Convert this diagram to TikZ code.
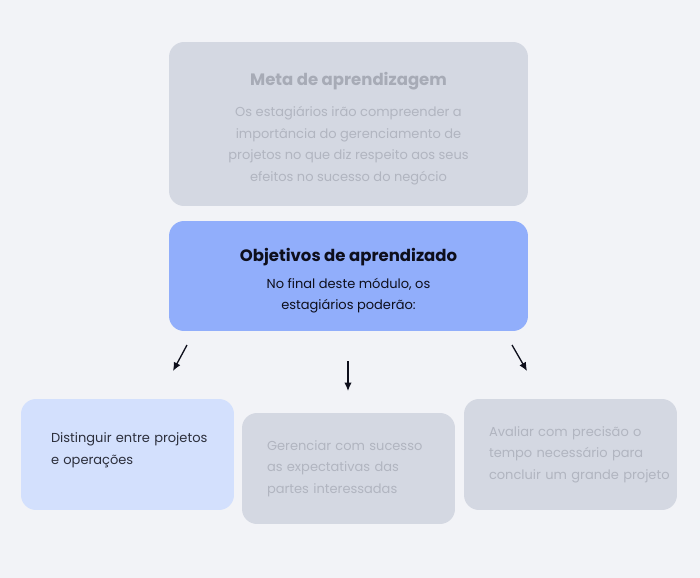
\documentclass[tikz,border=0pt]{standalone}
\usepackage{fontspec}
\setmainfont{Poppins}
\usepackage{xcolor}
\usetikzlibrary{arrows.meta,positioning,calc}
\definecolor{pagebg}{HTML}{F2F3F7}
\definecolor{cardgray}{HTML}{D4D8E2}
\definecolor{cardblue}{HTML}{91AEFB}
\definecolor{cardpale}{HTML}{D3E0FD}
\definecolor{fadetitle}{HTML}{A7ABB6}
\definecolor{fadetext}{HTML}{B1B5C0}
\definecolor{inktext}{HTML}{0E0F1C}
\definecolor{softink}{HTML}{2C2F3C}
\newcommand{\CardNode}[4]{%
  \node[card, #3] (#1) at (#2) {#4};
}

\begin{document}
\begin{tikzpicture}[x=0.02cm, y=-0.02cm,
  card/.style={rounded corners=0.3cm, inner sep=0pt},
  wide/.style={minimum width=7.18cm, align=center},
  small/.style={minimum width=4.26cm, minimum height=2.22cm, text width=3.26cm, align=left},
  bodyfont/.style={font=\fontsize{7.4}{12.2}\selectfont},
  pointer/.style={-{Latex[length=1.7mm,width=1.5mm]}, line width=0.75pt, inktext}]
  \fill[pagebg] (0,0) rectangle (700,578);
  \useasboundingbox (0,0) rectangle (700,578);
  % top cards
  \CardNode{meta}{348.5,124}{wide, fill=cardgray, minimum height=3.28cm, bodyfont, text=fadetext}{%
    \rule{0pt}{12.6pt}{\fontsize{9.4}{12.2}\selectfont\bfseries\color{fadetitle}Meta de aprendizagem}\\[5.6pt]
    Os estagiários irão compreender a\\
    importância do gerenciamento de\\
    projetos no que diz respeito aos seus\\
    efeitos no sucesso do negócio}
  \CardNode{goals}{348.5,276}{wide, fill=cardblue, minimum height=2.2cm, bodyfont, text=inktext}{%
    \rule{0pt}{12.8pt}{\fontsize{9.4}{12.2}\selectfont\bfseries Objetivos de aprendizado}\\[3pt]
    No final deste módulo, os\\
    estagiários poderão:}
  % bottom cards
  \CardNode{distinguish}{127.5,454.5}{small, fill=cardpale, bodyfont, text=softink, text width=3.06cm}{%
    \mbox{Distinguir entre projetos}\\
    e operações\rule[-6.6pt]{0pt}{6.6pt}}
  \CardNode{manage}{348.5,468.5}{small, fill=cardgray, bodyfont, text=fadetext}{%
    Gerenciar com sucesso\\
    as expectativas das\\
    partes interessadas}
  \CardNode{estimate}{570.5,454.5}{small, fill=cardgray, bodyfont, text=fadetext}{%
    \mbox{Avaliar com precisão o}\\
    \mbox{tempo necessário para}\\
    \mbox{concluir um grande projeto}}
  % arrows
  \coordinate (leftfrom) at (187,345);
  \coordinate (leftto) at (173,371);
  \coordinate (midfrom) at (348,361);
  \coordinate (midto) at (348,391);
  \coordinate (rightfrom) at (512,345);
  \coordinate (rightto) at (527,371);
  \draw[pointer] (leftfrom) -- (leftto);
  \draw[pointer] (midfrom) -- (midto);
  \draw[pointer] (rightfrom) -- (rightto);
\end{tikzpicture}
\end{document}
